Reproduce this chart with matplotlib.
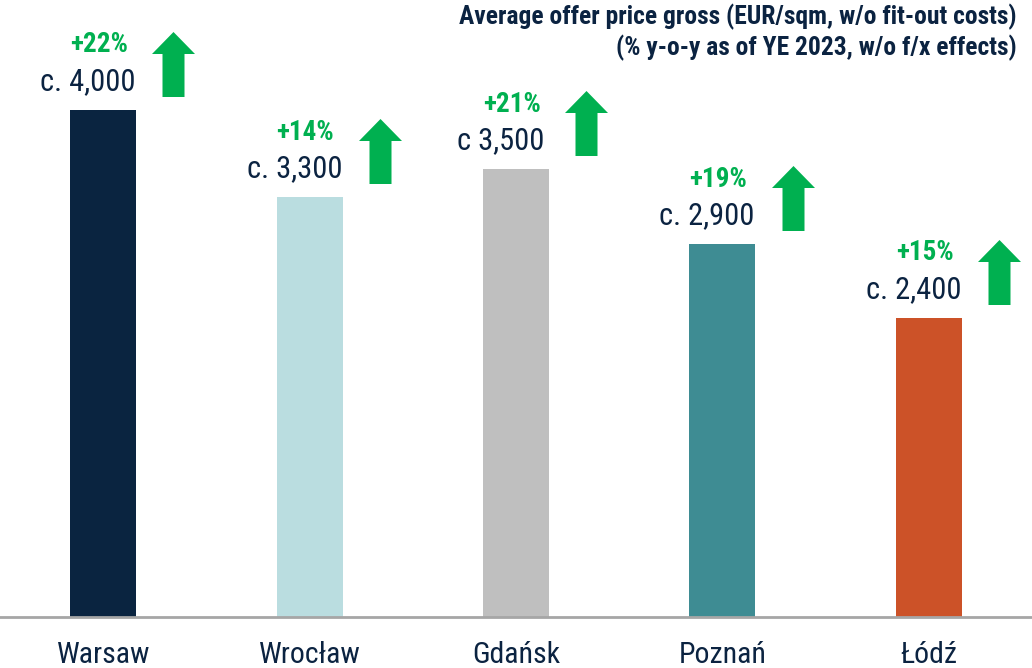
import matplotlib
matplotlib.use("Agg")
import matplotlib.pyplot as plt
from matplotlib.path import Path
from matplotlib.transforms import ScaledTranslation

# -------------------------------------------------------------------- DATA
CITIES = ["Warsaw", "Wrocław", "Gdańsk", "Poznań", "Łódź"]
PRICES = [4000, 3310, 3530, 2940, 2360]          # EUR/sqm, bar heights
PRICE_LABELS = ["c. 4,000", "c. 3,300", "c 3,500", "c. 2,900", "c. 2,400"]
YOY_LABELS = ["+22%", "+14%", "+21%", "+19%", "+15%"]
TITLE = ("Average offer price gross (EUR/sqm, w/o fit-out costs)\n"
         "(% y-o-y as of YE 2023, w/o f/x effects)")

# -------------------------------------------------------------------- STYLE
BAR_COLORS = ["#0A2440", "#BADDE0", "#BFBFBF", "#3E8C93", "#CC5228"]
NAVY = "#0B2341"
GREEN = "#00B050"
plt.rcParams["font.family"] = ["Roboto Condensed", "DejaVu Sans"]

# arrow marker: shaft 22px, head 43px wide / 22px tall, 65px total
arrow = Path([(-11, -32.5), (11, -32.5), (11, 10.5), (21.5, 10.5), (0, 32.5),
              (-21.5, 10.5), (-11, 10.5), (-11, -32.5)], closed=True)

fig = plt.figure(figsize=(10.32, 6.68), dpi=100)
ax = fig.add_axes([0, 0.0763, 1, 0.9237])
x = range(len(CITIES))
ax.bar(x, PRICES, width=0.32, color=BAR_COLORS)
ax.set_xlim(-0.5, 4.5)
ax.set_ylim(0, 4866)

ax.set_xticks(list(x))
ax.set_xticklabels(CITIES, fontsize=21.5, color=NAVY)
ax.tick_params(axis="x", length=0, pad=17)
ax.set_yticks([])
for s in ["top", "left", "right"]:
    ax.spines[s].set_visible(False)
ax.spines["bottom"].set_color("#A6A6A6")
ax.spines["bottom"].set_linewidth(2)

for i, (v, lab, pct) in enumerate(zip(PRICES, PRICE_LABELS, YOY_LABELS)):
    ax.annotate(lab, (i, v), xytext=(-11, 10), textcoords="offset points",
                ha="center", va="bottom", fontsize=22, color=NAVY)
    ax.annotate(pct, (i, v), xytext=(-3, 37), textcoords="offset points",
                ha="center", va="bottom", fontsize=19.5, color=GREEN,
                fontweight="bold")
    off = ScaledTranslation(0, 0.46, fig.dpi_scale_trans)
    ax.plot(i + 0.34, v, marker=arrow, markersize=46.8, color=GREEN,
            markeredgewidth=0, transform=ax.transData + off, clip_on=False)

fig.text(0.985, 0.995, TITLE, ha="right", va="top", fontsize=18.4,
         fontweight="bold", color=NAVY, linespacing=1.25)

fig.savefig("out.png", dpi=100)
